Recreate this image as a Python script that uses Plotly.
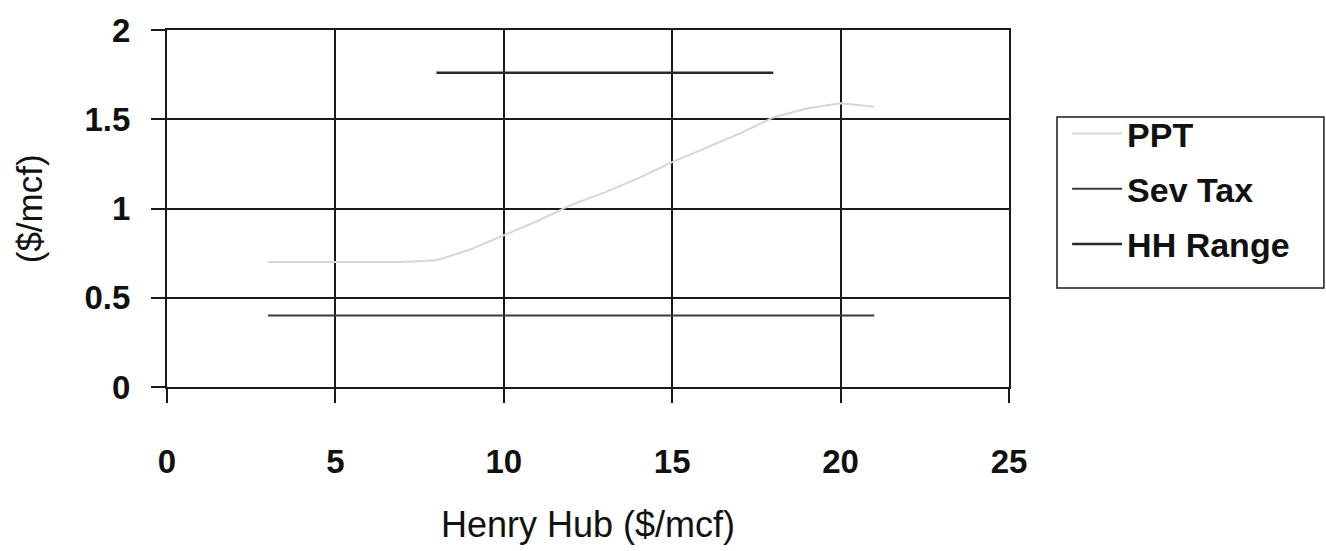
import plotly.graph_objects as go

# Henry Hub price points ($/mcf) and the tax curves drawn against them
hh_price = [3, 4, 5, 6, 7, 8, 9, 10, 11, 12, 13, 14, 15, 16, 17, 18, 19, 20, 21]
ppt = [0.70, 0.70, 0.70, 0.70, 0.70, 0.71, 0.77, 0.85, 0.93, 1.02, 1.09,
       1.17, 1.26, 1.34, 1.42, 1.51, 1.56, 1.59, 1.57]
sev_tax = [0.40] * len(hh_price)

# Henry Hub price range marker
hh_range_x = [8, 18]
hh_range_y = [1.76, 1.76]

x_ticks = [0, 5, 10, 15, 20, 25]
y_ticks = [0, 0.5, 1, 1.5, 2]

FONT = "Liberation Sans, Arial, sans-serif"

fig = go.Figure()
fig.add_trace(go.Scatter(x=hh_price, y=ppt, name="PPT", mode="lines",
                         line=dict(color="#d6d6d6", width=2), legendgroup="a"))
fig.add_trace(go.Scatter(x=hh_price, y=sev_tax, name="Sev Tax", mode="lines",
                         line=dict(color="#3a3a3a", width=2), legendgroup="b"))
fig.add_trace(go.Scatter(x=hh_range_x, y=hh_range_y, name="HH Range", mode="lines",
                         line=dict(color="#2a2a2a", width=2.5), legendgroup="c"))

axis_common = dict(
    showgrid=True, gridcolor="#1a1a1a", gridwidth=2,
    showline=True, linecolor="#1a1a1a", linewidth=2, mirror=True,
    ticks="outside", ticklen=14, tickwidth=1.5, tickcolor="#1a1a1a",
    zeroline=False,
    tickfont=dict(family=FONT, size=33, color="#111", weight="bold"),
)

fig.update_xaxes(range=[0, 25], tickvals=x_ticks, ticklabelstandoff=30, **axis_common)
fig.update_yaxes(range=[0, 2], tickvals=y_ticks, ticklabelstandoff=14, **axis_common)

fig.update_layout(
    width=1326, height=551,
    margin=dict(l=167, r=317, t=26, b=164),
    paper_bgcolor="white", plot_bgcolor="white",
    showlegend=True,
    legend=dict(
        x=1.069, y=0.79, xanchor="left", yanchor="top",
        bgcolor="rgba(0,0,0,0)", borderwidth=0,
        font=dict(family=FONT, size=34, color="#111", weight="bold"),
        tracegroupgap=8, itemwidth=50,
    ),
    # legend frame
    shapes=[
        dict(type="rect", xref="paper", yref="paper",
             x0=1.057, x1=1.374, y0=0.277, y1=0.756,
             line=dict(color="#1a1a1a", width=1.5), fillcolor="rgba(0,0,0,0)",
             layer="below"),
    ],
    annotations=[
        dict(text="Henry Hub ($/mcf)", xref="paper", yref="paper",
             x=0.5, y=-0.385, xanchor="center", yanchor="middle", showarrow=False,
             font=dict(family=FONT, size=36, color="#111")),
        dict(text="($/mcf)", xref="paper", yref="paper",
             x=-0.163, y=0.5, xanchor="center", yanchor="middle", showarrow=False,
             textangle=-90, font=dict(family=FONT, size=35, color="#111")),
    ],
)

fig.write_html("out.html")
